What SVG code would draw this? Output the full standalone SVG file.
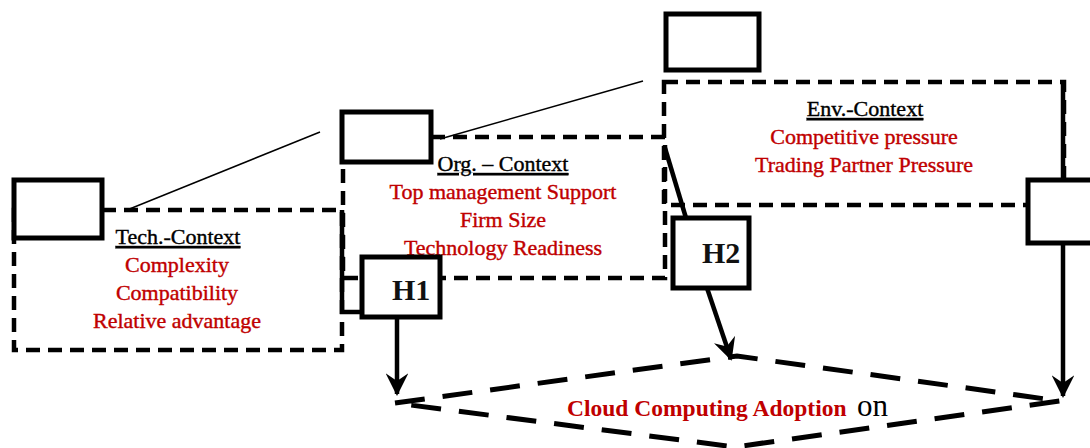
<svg xmlns="http://www.w3.org/2000/svg" width="1090" height="448" viewBox="0 0 1090 448">
<style>
.dash{fill:none;stroke:#000;stroke-width:4.5;stroke-dasharray:14 8}
.solid{fill:#fff;stroke:#000;stroke-width:5}
.t{font-family:"Liberation Serif",serif;font-size:22px;text-anchor:middle;stroke-width:0.4}
.title{fill:#000;stroke:#000;text-decoration:underline}
.item{fill:#c00000;stroke:#c00000}
.h{font-family:"Liberation Serif",serif;font-size:30px;font-weight:bold;fill:#111}
.thin{stroke:#000;stroke-width:1.5;fill:none}
.conn{stroke:#000;stroke-width:4.5;fill:none}
</style>
<defs>
<marker id="arr" viewBox="0 0 12 12" refX="11" refY="6" markerWidth="5" markerHeight="5" orient="auto" markerUnits="strokeWidth">
<path d="M0,0 L12,6 L0,12 L4,6 z" fill="#000"/>
</marker>
</defs>
<rect width="1090" height="448" fill="#fff"/>

<g id="tech">
<rect class="dash" x="14" y="210" width="328" height="140"/>
<rect class="solid" x="14" y="180" width="88" height="58"/>
<text class="t title" x="178" y="244">Tech.-Context</text>
<text class="t item" x="177" y="272">Complexity</text>
<text class="t item" x="177" y="300">Compatibility</text>
<text class="t item" x="177" y="328">Relative advantage</text>
</g>

<g id="org">
<rect class="dash" x="343" y="137" width="322" height="141"/>
<rect class="solid" x="342" y="112" width="89" height="50"/>
<text class="t title" x="503" y="171">Org. – Context</text>
<text class="t item" x="503" y="199">Top management Support</text>
<text class="t item" x="503" y="227">Firm Size</text>
<text class="t item" x="503" y="255">Technology Readiness</text>
</g>

<g id="env">
<rect class="dash" x="664" y="82" width="400" height="123"/>
<rect class="solid" x="666" y="14" width="93" height="56"/>
<rect class="solid" x="1028" y="180" width="70" height="63"/>
<text class="t title" x="865" y="116">Env.-Context</text>
<text class="t item" x="864" y="144">Competitive pressure</text>
<text class="t item" x="864" y="172">Trading Partner Pressure</text>
</g>

<g id="connectors">
<line class="thin" x1="127" y1="210" x2="320" y2="132"/>
<line class="thin" x1="440" y1="139" x2="643" y2="81"/>
<polyline class="conn" points="342,210 342,312 364,312"/>
<line class="conn" x1="665" y1="148" x2="686" y2="218"/>
<line class="conn" x1="397" y1="317" x2="397" y2="394" marker-end="url(#arr)"/>
<line class="conn" x1="707" y1="288" x2="731" y2="359" marker-end="url(#arr)"/>
<line class="conn" x1="1063" y1="82" x2="1063" y2="180"/>
<line class="conn" x1="1063" y1="243" x2="1063" y2="396" marker-end="url(#arr)"/>
</g>

<g id="h1">
<rect class="solid" x="362" y="257" width="78" height="60"/>
<text class="h" x="392" y="300">H1</text>
</g>

<g id="h2">
<rect class="solid" x="673" y="218" width="76" height="70"/>
<text class="h" x="702" y="263">H2</text>
</g>

<g id="adoption">
<polygon points="395,403 737,356 1060,401 735,447" fill="none" stroke="#000" stroke-width="5" stroke-dasharray="30 18"/>
<text x="567" y="416" font-family="Liberation Serif,serif" font-size="23.5" font-weight="bold" fill="#c00000">Cloud Computing Adoption</text>
<text x="857" y="416" font-family="Liberation Serif,serif" font-size="31" fill="#000">on</text>
</g>
</svg>
